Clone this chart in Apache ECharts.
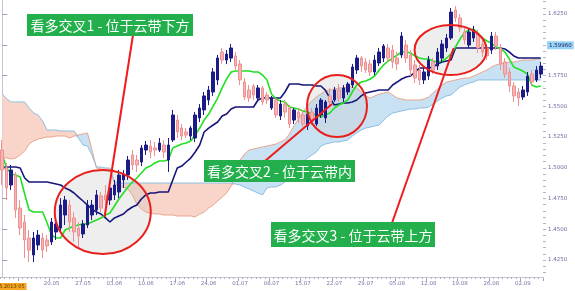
<!DOCTYPE html>
<html>
<head>
<meta charset="utf-8">
<script src="https://cdn.jsdelivr.net/npm/echarts@6/dist/echarts.min.js"></script>
<style>
html,body{margin:0;padding:0;background:#fff}
#main{width:575px;height:291px}
</style>
</head>
<body>
<div id="main"></div>
<script>
// 价格数据 (open / close / low / high)
var opens = [
  1.5144,1.4998,1.4860,1.4941,1.4673,1.4559,1.4429,1.4291,1.4372,1.4429,
  1.4413,1.4397,1.4478,1.4510,1.4616,1.4697,1.4592,1.4510,1.4462,1.4535,
  1.4616,1.4657,1.4771,1.4779,1.4738,1.4779,1.4803,1.4901,1.4941,1.5104,
  1.5063,1.5047,1.5144,1.5177,1.5161,1.5144,1.5185,1.5063,1.5226,1.5388,
  1.5323,1.5291,1.5258,1.5242,1.5405,1.5470,1.5551,1.5616,1.5714,1.5941,
  1.5876,1.5892,1.5909,1.5844,1.5697,1.5632,1.5665,1.5567,1.5649,1.5592,
  1.5486,1.5551,1.5421,1.5518,1.5486,1.5388,1.5453,1.5429,1.5340,1.5453,
  1.5356,1.5429,1.5405,1.5584,1.5551,1.5632,1.5567,1.5616,1.5673,1.5795,
  1.5892,1.5860,1.5844,1.5779,1.5852,1.5892,1.5974,1.5957,1.5892,1.5917,
  1.5998,1.5917,1.5836,1.5795,1.5714,1.5746,1.5860,1.5827,1.5892,1.5974,
  1.6055,1.6283,1.6218,1.6104,1.5998,1.6055,1.6088,1.6006,1.5974,1.5957,
  1.6071,1.5974,1.5860,1.5779,1.5665,1.5616,1.5575,1.5616,1.5762,1.5714,
  1.5762
];
var closes = [
  1.4982,1.4836,1.4982,1.4657,1.4510,1.4413,1.4331,1.4429,1.4453,1.4331,
  1.4364,1.4559,1.4543,1.4697,1.4738,1.4559,1.4478,1.4445,1.4543,1.4697,
  1.4697,1.4779,1.4673,1.4738,1.4836,1.4860,1.4941,1.4949,1.5063,1.5023,
  1.5023,1.5161,1.5185,1.5128,1.5144,1.5201,1.5128,1.5185,1.5429,1.5291,
  1.5258,1.5266,1.5323,1.5429,1.5486,1.5584,1.5632,1.5779,1.5892,1.5876,
  1.5925,1.5974,1.5827,1.5714,1.5575,1.5567,1.5592,1.5649,1.5535,1.5551,
  1.5567,1.5429,1.5518,1.5453,1.5356,1.5470,1.5405,1.5356,1.5437,1.5388,
  1.5486,1.5551,1.5535,1.5535,1.5632,1.5567,1.5649,1.5681,1.5819,1.5892,
  1.5827,1.5795,1.5779,1.5876,1.5941,1.5990,1.5892,1.5860,1.5844,1.6071,
  1.5892,1.5795,1.5730,1.5714,1.5779,1.5876,1.5795,1.5941,1.6006,1.6055,
  1.6266,1.6218,1.6136,1.6039,1.6104,1.6120,1.5974,1.5941,1.5909,1.6071,
  1.5990,1.5844,1.5762,1.5665,1.5584,1.5567,1.5632,1.5746,1.5697,1.5795,
  1.5827
];
var lows = [
  1.4860,1.4738,1.4819,1.4592,1.4453,1.4266,1.4234,1.4234,1.4331,1.4266,
  1.4315,1.4372,1.4413,1.4478,1.4535,1.4478,1.4397,1.4348,1.4429,1.4510,
  1.4575,1.4616,1.4640,1.4697,1.4697,1.4738,1.4754,1.4836,1.4901,1.4982,
  1.4966,1.5014,1.5104,1.5079,1.5096,1.5128,1.5079,1.4966,1.5210,1.5242,
  1.5226,1.5242,1.5226,1.5210,1.5372,1.5429,1.5510,1.5584,1.5673,1.5844,
  1.5844,1.5860,1.5795,1.5673,1.5551,1.5535,1.5551,1.5551,1.5510,1.5518,
  1.5470,1.5405,1.5388,1.5405,1.5323,1.5356,1.5364,1.5331,1.5307,1.5348,
  1.5340,1.5405,1.5364,1.5502,1.5535,1.5535,1.5535,1.5592,1.5649,1.5762,
  1.5779,1.5771,1.5746,1.5754,1.5827,1.5860,1.5860,1.5811,1.5795,1.5892,
  1.5852,1.5746,1.5689,1.5673,1.5681,1.5714,1.5762,1.5795,1.5860,1.5941,
  1.6039,1.6185,1.6104,1.6006,1.5974,1.6023,1.5933,1.5901,1.5876,1.5925,
  1.5957,1.5795,1.5730,1.5616,1.5535,1.5502,1.5551,1.5584,1.5665,1.5697,
  1.5730
];
var highs = [
  1.5226,1.5039,1.5023,1.4966,1.4738,1.4616,1.4494,1.4478,1.4494,1.4470,
  1.4453,1.4592,1.4575,1.4754,1.4771,1.4738,1.4640,1.4559,1.4575,1.4738,
  1.4738,1.4819,1.4803,1.4860,1.4876,1.4901,1.4982,1.4982,1.5096,1.5144,
  1.5104,1.5185,1.5218,1.5226,1.5210,1.5242,1.5226,1.5242,1.5470,1.5429,
  1.5356,1.5323,1.5340,1.5453,1.5518,1.5616,1.5665,1.5811,1.5917,1.5974,
  1.5957,1.6006,1.5941,1.5876,1.5730,1.5673,1.5681,1.5673,1.5665,1.5616,
  1.5584,1.5567,1.5551,1.5551,1.5510,1.5486,1.5486,1.5470,1.5453,1.5486,
  1.5518,1.5567,1.5551,1.5649,1.5657,1.5681,1.5673,1.5697,1.5844,1.5917,
  1.5909,1.5892,1.5876,1.5917,1.5974,1.6006,1.6006,1.5998,1.5941,1.6104,
  1.6039,1.5957,1.5876,1.5836,1.5811,1.5909,1.5892,1.5974,1.6039,1.6088,
  1.6299,1.6315,1.6250,1.6136,1.6136,1.6153,1.6120,1.6039,1.5998,1.6104,
  1.6104,1.6006,1.5892,1.5811,1.5697,1.5649,1.5665,1.5779,1.5795,1.5827,
  1.5860
];
// 转换线 (tenkan) / 基准线 (kijun)
var tenkan = [
  1.5104,1.4998,1.4949,1.4941,1.4925,1.4787,1.4657,1.4640,1.4640,1.4640,
  1.4551,1.4453,1.4429,1.4429,1.4494,1.4510,1.4527,1.4535,1.4543,1.4543,
  1.4559,1.4575,1.4592,1.4616,1.4632,1.4689,1.4746,1.4795,1.4844,1.4884,
  1.4917,1.4958,1.4998,1.5014,1.5039,1.5055,1.5055,1.5063,1.5161,1.5177,
  1.5193,1.5201,1.5218,1.5266,1.5323,1.5388,1.5437,1.5502,1.5567,1.5649,
  1.5722,1.5779,1.5787,1.5787,1.5787,1.5787,1.5779,1.5779,1.5754,1.5714,
  1.5600,1.5559,1.5543,1.5535,1.5494,1.5486,1.5478,1.5462,1.5453,1.5437,
  1.5429,1.5413,1.5429,1.5445,1.5486,1.5510,1.5527,1.5551,1.5616,1.5673,
  1.5697,1.5705,1.5722,1.5746,1.5795,1.5836,1.5868,1.5892,1.5917,1.5941,
  1.5941,1.5933,1.5909,1.5892,1.5884,1.5884,1.5868,1.5860,1.5868,1.5892,
  1.5925,1.5982,1.6047,1.6096,1.6120,1.6128,1.6096,1.6055,1.6031,1.6014,
  1.5982,1.5966,1.5941,1.5884,1.5819,1.5803,1.5787,1.5762,1.5673,1.5657,
  1.5665
];
var kijun = [
  1.5006,1.5006,1.5006,1.5006,1.4998,1.4917,1.4884,1.4884,1.4884,1.4884,
  1.4884,1.4876,1.4868,1.4860,1.4836,1.4819,1.4795,1.4762,1.4730,1.4697,
  1.4665,1.4640,1.4624,1.4592,1.4559,1.4592,1.4608,1.4624,1.4657,1.4681,
  1.4697,1.4746,1.4779,1.4795,1.4795,1.4803,1.4803,1.4803,1.4901,1.4998,
  1.5014,1.5047,1.5079,1.5128,1.5185,1.5291,1.5323,1.5348,1.5372,1.5421,
  1.5437,1.5478,1.5494,1.5494,1.5494,1.5494,1.5494,1.5551,1.5567,1.5567,
  1.5567,1.5567,1.5567,1.5616,1.5681,1.5681,1.5681,1.5673,1.5673,1.5673,
  1.5665,1.5665,1.5632,1.5567,1.5510,1.5518,1.5527,1.5527,1.5535,1.5551,
  1.5584,1.5608,1.5616,1.5624,1.5632,1.5632,1.5632,1.5673,1.5697,1.5722,
  1.5738,1.5746,1.5779,1.5811,1.5811,1.5811,1.5819,1.5844,1.5860,1.5868,
  1.5876,1.5974,1.5974,1.5974,1.5974,1.5974,1.5974,1.5974,1.5974,1.5974,
  1.5974,1.5974,1.5966,1.5941,1.5909,1.5892,1.5892,1.5892,1.5892,1.5892,
  1.5892
];
// 云带 先行带A / 先行带B
var spanA = [
  1.5088,1.5079,1.5071,1.5079,1.5104,1.5136,1.5193,1.5218,1.5234,1.5242,
  1.5250,1.5250,1.5258,1.5258,1.5258,1.5242,1.5258,1.5266,1.5275,1.5283,
  1.5144,1.4998,1.4990,1.4982,1.4982,1.4876,1.4844,1.4844,1.4827,1.4779,
  1.4705,1.4665,1.4640,1.4632,1.4624,1.4624,1.4616,1.4616,1.4616,1.4608,
  1.4608,1.4608,1.4608,1.4600,1.4624,1.4640,1.4673,1.4697,1.4730,1.4762,
  1.4795,1.4852,1.4941,1.5063,1.5112,1.5144,1.5153,1.5161,1.5169,1.5177,
  1.5185,1.5193,1.5210,1.5226,1.5275,1.5340,1.5397,1.5453,1.5502,1.5543,
  1.5575,1.5600,1.5624,1.5632,1.5640,1.5649,1.5649,1.5657,1.5657,1.5649,
  1.5616,1.5584,1.5567,1.5584,1.5600,1.5608,1.5616,1.5592,1.5567,1.5559,
  1.5551,1.5551,1.5551,1.5551,1.5559,1.5575,1.5608,1.5640,1.5673,1.5697,
  1.5705,1.5714,1.5722,1.5730,1.5730,1.5746,1.5762,1.5779,1.5795,1.5819,
  1.5836,1.5844,1.5852,1.5860,1.5860,1.5868,1.5876,1.5876,1.5876,1.5884,
  1.5884
];
var spanB = [
  1.5600,1.5559,1.5535,1.5535,1.5535,1.5535,1.5486,1.5445,1.5429,1.5380,
  1.5307,1.5307,1.5307,1.5299,1.5299,1.5299,1.5299,1.5242,1.5185,1.5177,
  1.5104,1.5006,1.5006,1.4998,1.4998,1.4884,1.4876,1.4876,1.4876,1.4876,
  1.4876,1.4876,1.4876,1.4876,1.4876,1.4876,1.4876,1.4876,1.4876,1.4876,
  1.4876,1.4876,1.4876,1.4876,1.4876,1.4876,1.4876,1.4876,1.4876,1.4876,
  1.4876,1.4876,1.4868,1.4860,1.4844,1.4827,1.4811,1.4795,1.4779,1.4836,
  1.4844,1.4844,1.4860,1.4884,1.4925,1.4974,1.5014,1.5047,1.5079,1.5104,
  1.5128,1.5177,1.5193,1.5201,1.5210,1.5210,1.5218,1.5226,1.5258,1.5283,
  1.5307,1.5323,1.5331,1.5340,1.5348,1.5388,1.5421,1.5445,1.5453,1.5462,
  1.5470,1.5478,1.5478,1.5486,1.5486,1.5494,1.5518,1.5543,1.5567,1.5584,
  1.5592,1.5624,1.5657,1.5673,1.5689,1.5697,1.5714,1.5714,1.5714,1.5714,
  1.5714,1.5714,1.5714,1.5714,1.5714,1.5714,1.5714,1.5714,1.5714,1.5714,
  1.5714
];
var weekLabels = ['20.05','27.05','03.06','10.06','17.06','24.06','01.07','08.07',
                  '15.07','22.07','29.07','05.08','12.08','19.08','26.08','02.09'];
var priceTicks = [1.425, 1.45, 1.475, 1.5, 1.525, 1.55, 1.575, 1.6, 1.625];
var lastPrice = 1.5996;

// 标注: 圆圈中心 / 指示线终点 (bar 序号, 价格)
var ringCenters = [[22.4, 1.4640], [74.6, 1.5502], [99.9, 1.5957]];
var pointerEnds = [[22.8, 1.4600], [73.5, 1.5518], [100.6, 1.5974]];
var noteTexts = ['看多交叉1 - 位于云带下方', '看多交叉2 - 位于云带内', '看多交叉3 - 位于云带上方'];

// layout of the annotations (px)
var ringRadii = [[48, 42], [30, 31], [36, 25]];
var noteBoxes = [[27, 14, 166, 22], [204, 160, 151, 22], [271, 222, 164, 25]];
var pointerStarts = [[133, 35], [265, 161], [392, 223]];

var cats = opens.map(function (v, i) { return String(i); });
var candles = opens.map(function (o, i) { return [o, closes[i], lows[i], highs[i]]; });
var kumoBase = spanA.map(function (a, i) { return Math.min(a, spanB[i]); });
var kumoPink = spanA.map(function (a, i) { return Math.max(spanB[i] - a, 0); });
var kumoBlue = spanA.map(function (a, i) { return Math.max(a - spanB[i], 0); });
var labelTicks = priceTicks.filter(function (v) { return v !== 1.6; });
var minorTicks = [];
for (var k = 0; k <= 44; k++) minorTicks.push(Math.round((1.415 + k * 0.005) * 10000) / 10000);

var chartDom = document.getElementById('main');
var myChart = echarts.init(chartDom);

var option = {
    animation: false,
    backgroundColor: '#fff',
    grid: [
        { left: 0, right: 32, top: 0, bottom: 14 },
        { left: 0, right: 32, top: 0, bottom: 14 }
    ],
    xAxis: [
        {
            type: 'category',
            gridIndex: 0,
            data: cats,
            boundaryGap: true,
            axisLine: { show: true, lineStyle: { color: '#c6c6d0' } },
            axisTick: {
                show: true,
                length: 4,
                interval: function (i) { return i >= 4 && (i - 4) % 7 === 0; },
                lineStyle: { color: '#9c9cb0' }
            },
            axisLabel: {
                interval: function (i) { return i >= 11 && (i - 11) % 7 === 0; },
                formatter: function (v, i) { return weekLabels[(i - 11) / 7] || ''; },
                fontSize: 5.5,
                color: '#7474a4',
                margin: 4,
                fontFamily: 'DejaVu Sans'
            },
            splitLine: { show: false }
        },
        {
            type: 'category',
            gridIndex: 1,
            data: cats,
            boundaryGap: true,
            axisLine: { show: false },
            axisTick: { show: true, length: 2, interval: 0, lineStyle: { color: '#b4b4c4' } },
            axisLabel: { show: false },
            splitLine: { show: false }
        },
        {
            type: 'value',
            gridIndex: 0,
            min: -0.5,
            max: cats.length - 0.5,
            show: false
        }
    ],
    yAxis: [
        {
            type: 'value',
            gridIndex: 0,
            position: 'right',
            min: 1.4112,
            max: 1.6364,
            splitLine: { show: false },
            axisLine: { show: true, lineStyle: { color: '#c6c6d0' } },
            axisTick: { show: true, length: 5, customValues: priceTicks, lineStyle: { color: '#9c9cb0' } },
            axisLabel: {
                customValues: labelTicks,
                formatter: function (v) { return v.toFixed(4); },
                fontSize: 5.5,
                color: '#6c6c9c',
                margin: 5,
                fontFamily: 'DejaVu Sans'
            }
        },
        {
            type: 'value',
            gridIndex: 1,
            position: 'right',
            min: 1.4112,
            max: 1.6364,
            splitLine: { show: false },
            axisLine: { show: false },
            axisTick: { show: true, length: 3, customValues: minorTicks, lineStyle: { color: '#b4b4c4' } },
            axisLabel: { show: false }
        }
    ],
    series: [
        // 云带填充
        {
            type: 'line', data: kumoBase, stack: 'kumo', z: 1, silent: true,
            showSymbol: false, symbol: 'none', lineStyle: { opacity: 0 }
        },
        {
            type: 'line', data: kumoPink, stack: 'kumo', z: 1, silent: true,
            showSymbol: false, symbol: 'none', lineStyle: { opacity: 0 },
            areaStyle: { color: '#f8d5c8', opacity: 1 }
        },
        {
            type: 'line', data: kumoBlue, stack: 'kumo', z: 1, silent: true,
            showSymbol: false, symbol: 'none', lineStyle: { opacity: 0 },
            areaStyle: { color: '#c9e2f3', opacity: 1 }
        },
        // 圆圈底色
        {
            type: 'custom', xAxisIndex: 2, yAxisIndex: 0, z: 2, silent: true,
            data: ringCenters,
            renderItem: function (params, api) {
                var p = api.coord([api.value(0), api.value(1)]);
                var r = ringRadii[params.dataIndex];
                return {
                    type: 'ellipse',
                    shape: { cx: p[0], cy: p[1], rx: r[0], ry: r[1] },
                    style: { fill: 'rgba(200,200,200,0.3)', stroke: null }
                };
            }
        },
        {
            type: 'line', data: spanA, z: 2, silent: true, showSymbol: false, symbol: 'none',
            lineStyle: { color: '#eaa58e', width: 1 }
        },
        {
            type: 'line', data: spanB, z: 2, silent: true, showSymbol: false, symbol: 'none',
            lineStyle: { color: '#8cbfe2', width: 1 }
        },
        {
            type: 'candlestick',
            data: candles,
            z: 3,
            barWidth: 3,
            itemStyle: {
                color: '#1c1c88',
                color0: '#f7b4b4',
                borderColor: '#1c1c88',
                borderColor0: '#ee9090',
                borderWidth: 1
            }
        },
        {
            type: 'line', data: kijun, z: 3, silent: true, showSymbol: false, symbol: 'none',
            lineStyle: { color: '#16167c', width: 1.6 }
        },
        {
            type: 'line', data: tenkan, z: 3, silent: true, showSymbol: false, symbol: 'none',
            lineStyle: { color: '#22e022', width: 1.6 }
        },
        // 圆圈 + 指示线
        {
            type: 'custom', xAxisIndex: 2, yAxisIndex: 0, z: 5, silent: true,
            data: ringCenters.map(function (c, i) { return [c[0], c[1], pointerEnds[i][0], pointerEnds[i][1]]; }),
            renderItem: function (params, api) {
                var p = api.coord([api.value(0), api.value(1)]);
                var e = api.coord([api.value(2), api.value(3)]);
                var r = ringRadii[params.dataIndex];
                var s = pointerStarts[params.dataIndex];
                return {
                    type: 'group',
                    children: [
                        {
                            type: 'ellipse',
                            shape: { cx: p[0], cy: p[1], rx: r[0], ry: r[1] },
                            style: { fill: null, stroke: '#e8201c', lineWidth: 2 }
                        },
                        {
                            type: 'line',
                            shape: { x1: s[0], y1: s[1], x2: e[0], y2: e[1] },
                            style: { stroke: '#ee1c1c', lineWidth: 2 }
                        }
                    ]
                };
            }
        },
        // 当前价标签
        {
            type: 'custom', xAxisIndex: 2, yAxisIndex: 0, z: 6, silent: true, clip: false,
            data: [[cats.length - 0.5, lastPrice]],
            renderItem: function (params, api) {
                var p = api.coord([api.value(0), api.value(1)]);
                return {
                    type: 'text',
                    x: p[0] + 4,
                    y: p[1],
                    style: {
                        text: lastPrice.toFixed(5),
                        fill: '#1e1e5e',
                        font: '5.5px "DejaVu Sans"',
                        backgroundColor: '#95d4f4',
                        padding: [1, 2],
                        verticalAlign: 'middle'
                    }
                };
            }
        }
    ],
    graphic: noteTexts.map(function (t, i) {
        var b = noteBoxes[i];
        return {
            type: 'group',
            left: b[0],
            top: b[1],
            z: 20,
            children: [
                { type: 'rect', z: 20, shape: { x: 0, y: 0, width: b[2], height: b[3] }, style: { fill: '#23b04c' } },
                {
                    type: 'text',
                    z: 21,
                    x: b[2] / 2,
                    y: b[3] / 2 + 1,
                    style: {
                        text: t,
                        fill: '#ffffff',
                        font: '14px "Noto Sans CJK SC"',
                        align: 'center',
                        verticalAlign: 'middle'
                    }
                }
            ]
        };
    }).concat([{
        type: 'text',
        left: -14,
        top: 283,
        z: 20,
        style: {
            text: '08.05.2013 05',
            fill: '#5a3a00',
            font: '5px "DejaVu Sans"',
            backgroundColor: '#f5a623',
            padding: [1, 2]
        }
    }])
};

option && myChart.setOption(option);
new ResizeObserver(() => myChart.resize()).observe(chartDom);
</script>
</body>
</html>
